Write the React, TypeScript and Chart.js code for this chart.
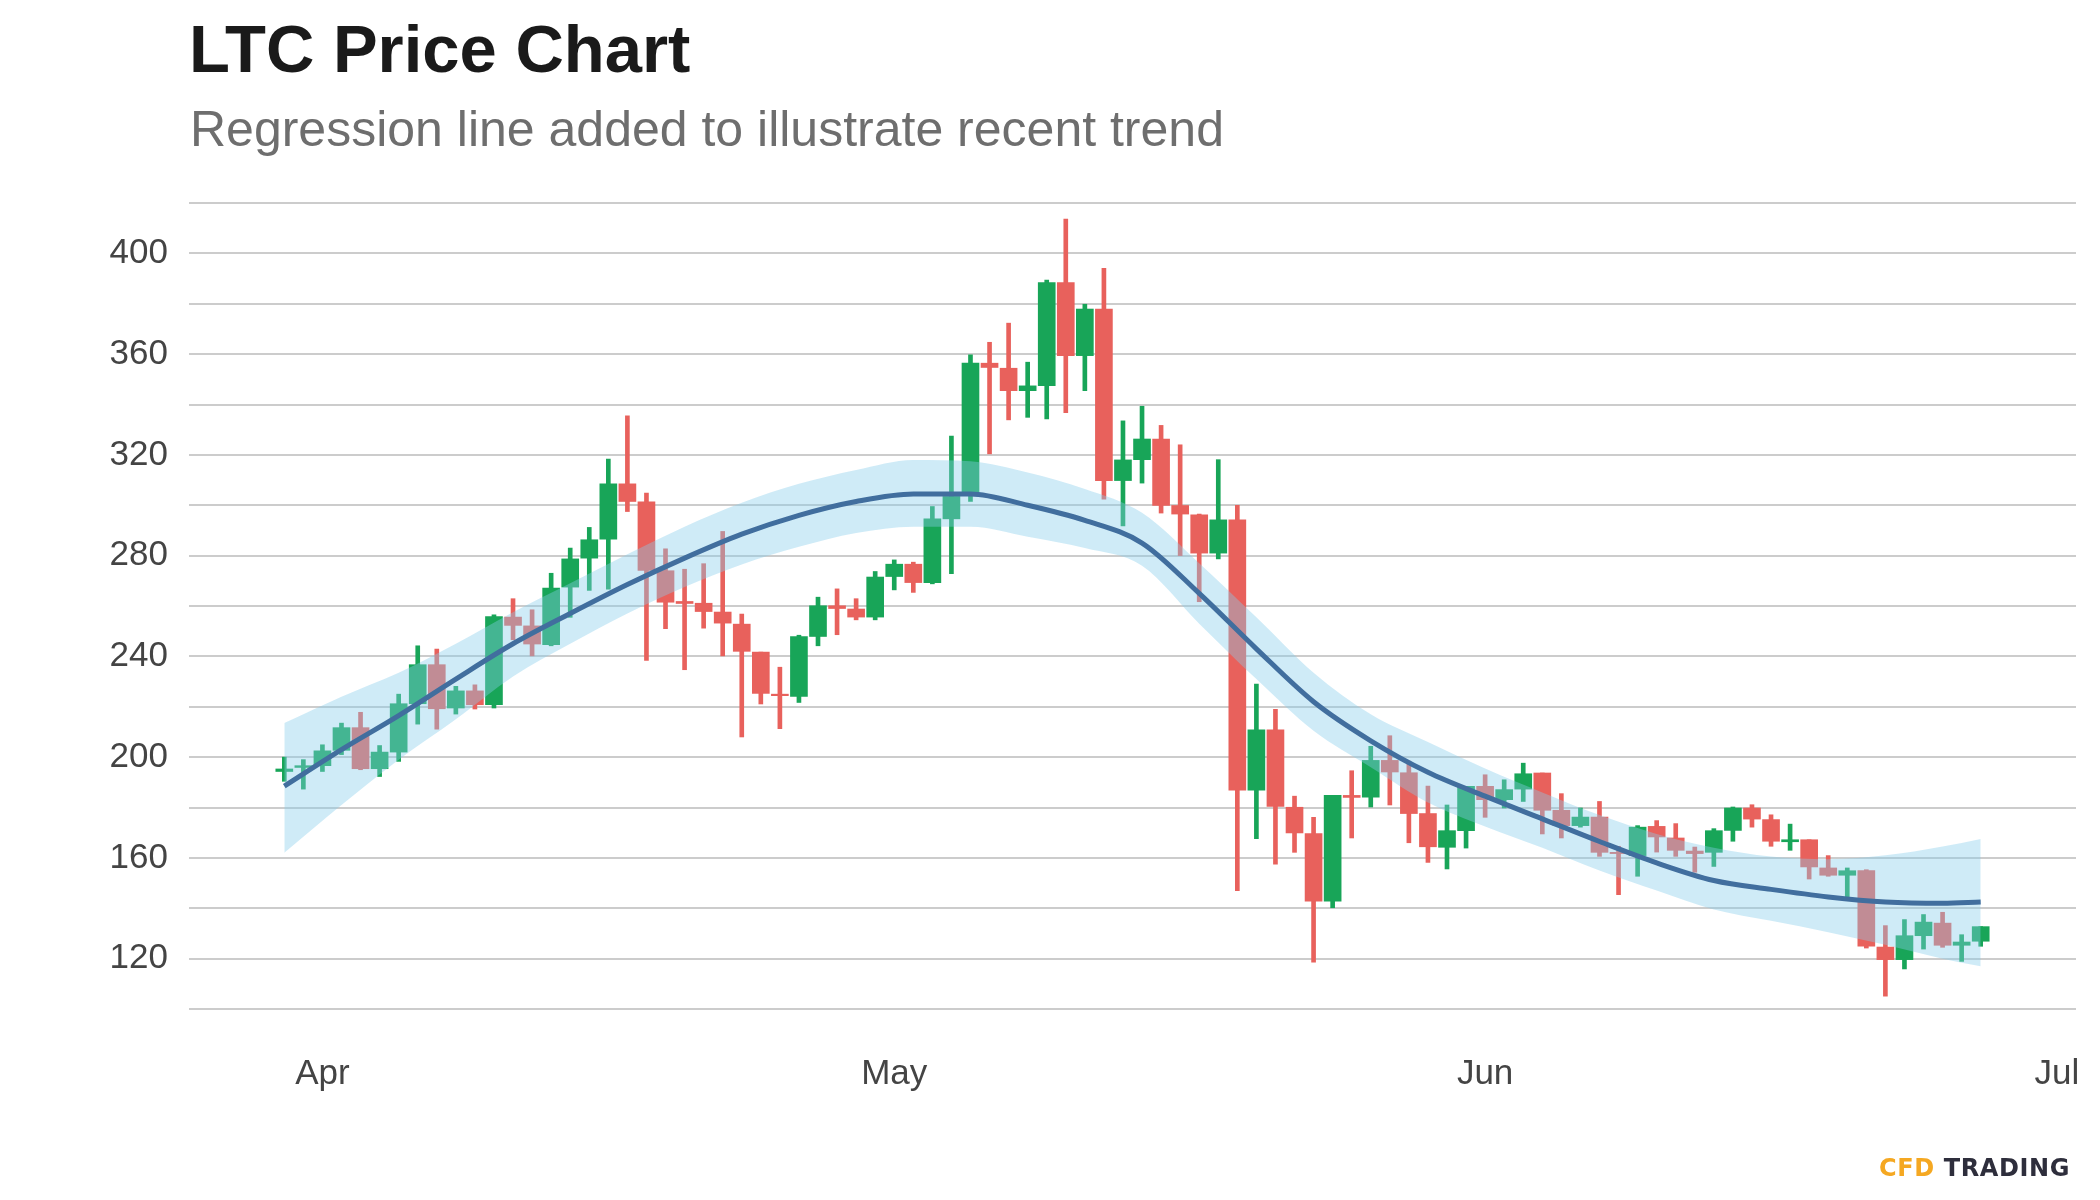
import React, { useEffect, useRef } from 'react';
import { Chart, registerables } from 'chart.js';

Chart.register(...registerables);

// ---- Data (LTC daily candles, 2021) ----
const dates = [
  '03-30', '03-31',
  '04-01', '04-02', '04-03', '04-04', '04-05', '04-06', '04-07', '04-08', '04-09', '04-10',
  '04-11', '04-12', '04-13', '04-14', '04-15', '04-16', '04-17', '04-18', '04-19', '04-20',
  '04-21', '04-22', '04-23', '04-24', '04-25', '04-26', '04-27', '04-28', '04-29', '04-30',
  '05-01', '05-02', '05-03', '05-04', '05-05', '05-06', '05-07', '05-08', '05-09', '05-10',
  '05-11', '05-12', '05-13', '05-14', '05-15', '05-16', '05-17', '05-18', '05-19', '05-20',
  '05-21', '05-22', '05-23', '05-24', '05-25', '05-26', '05-27', '05-28', '05-29', '05-30', '05-31',
  '06-01', '06-02', '06-03', '06-04', '06-05', '06-06', '06-07', '06-08', '06-09', '06-10',
  '06-11', '06-12', '06-13', '06-14', '06-15', '06-16', '06-17', '06-18', '06-19', '06-20',
  '06-21', '06-22', '06-23', '06-24', '06-25', '06-26', '06-27',
];

const opens = [
  194.3, 195.9,
  196.6, 202.7, 211.7, 195.4, 202.0, 221.2, 236.7, 219.5, 226.3, 220.8,
  255.6, 252.1, 244.6, 267.5, 279.0, 286.5, 308.5, 301.4, 274.0, 261.8,
  261.1, 257.6, 252.8, 241.7, 225.0, 224.1, 247.9, 260.1, 258.8, 255.6,
  271.7, 276.6, 269.3, 294.6, 305.3, 356.4, 354.4, 345.5, 347.5, 388.4,
  359.4, 377.9, 309.8, 318.1, 326.3, 299.9, 296.2, 281.0, 294.2, 186.9,
  210.8, 180.1, 169.6, 142.8, 184.8, 184.1, 198.7, 193.8, 177.6, 164.2, 170.8,
  188.4, 183.1, 187.3, 193.7, 178.9, 172.8, 176.2, 162.2, 160.9, 172.5,
  167.9, 162.7, 162.2, 170.9, 179.8, 175.2, 166.4, 167.2, 156.0, 153.1,
  155.0, 124.6, 119.6, 129.1, 134.1, 125.3, 126.9,
];

const highs = [
  200.0, 199.0,
  204.9, 213.5, 217.8, 204.6, 225.0, 244.2, 242.9, 228.1, 228.7, 256.5,
  262.9, 258.5, 273.0, 283.0, 291.2, 318.3, 335.5, 304.8, 282.7, 274.6,
  276.8, 289.6, 256.8, 241.7, 235.7, 248.4, 263.5, 266.8, 262.9, 273.7,
  278.3, 277.4, 299.5, 327.5, 359.7, 364.7, 372.3, 356.8, 389.4, 413.6,
  379.8, 394.1, 333.5, 339.3, 331.7, 324.0, 296.5, 318.1, 300.0, 229.0,
  219.0, 184.5, 176.1, 184.8, 194.6, 204.3, 208.5, 198.4, 188.5, 181.0, 188.4,
  193.0, 191.0, 197.6, 193.7, 185.5, 179.8, 182.4, 164.6, 172.8, 174.8,
  173.6, 164.3, 171.6, 180.2, 181.1, 177.1, 173.4, 167.2, 160.9, 156.0,
  155.3, 133.1, 135.5, 137.5, 138.4, 129.5, 132.7,
];

const lows = [
  190.4, 187.3,
  194.3, 201.0, 195.0, 192.3, 198.3, 213.1, 211.1, 217.1, 219.1, 219.5,
  246.6, 240.2, 244.2, 255.5, 266.2, 266.7, 297.5, 238.4, 251.0, 234.7,
  251.2, 240.2, 208.0, 221.1, 211.3, 221.7, 244.2, 248.6, 254.5, 254.5,
  266.4, 265.4, 268.8, 272.8, 301.5, 320.4, 333.9, 334.9, 334.3, 336.8,
  345.5, 302.4, 291.8, 308.8, 296.9, 280.0, 261.7, 278.7, 147.0, 167.6,
  157.5, 162.2, 118.6, 140.2, 167.9, 180.2, 181.0, 166.0, 158.2, 155.6, 163.9,
  176.1, 179.8, 182.4, 169.5, 167.9, 172.2, 160.6, 145.4, 152.7, 162.3,
  160.6, 154.3, 156.6, 166.6, 172.2, 164.6, 163.0, 151.6, 152.7, 144.1,
  124.2, 105.1, 115.9, 123.8, 124.5, 118.9, 124.9,
];

const closes = [
  195.3, 196.6,
  202.5, 211.7, 195.4, 202.0, 221.2, 236.7, 219.2, 226.3, 220.8, 255.8,
  252.3, 244.9, 267.1, 278.7, 286.3, 308.5, 301.5, 274.1, 261.5, 261.0,
  257.8, 253.2, 242.0, 225.3, 224.4, 247.9, 260.1, 259.0, 255.6, 271.5,
  276.6, 269.3, 294.6, 303.5, 356.4, 354.7, 345.5, 347.4, 388.4, 359.4,
  377.9, 309.8, 318.0, 326.3, 299.9, 296.5, 281.0, 294.2, 186.9, 210.8,
  180.4, 169.9, 142.8, 184.8, 184.0, 198.7, 194.1, 177.6, 164.4, 170.8, 188.4,
  183.1, 187.1, 193.4, 178.9, 172.8, 176.2, 162.2, 161.7, 172.2, 168.3,
  163.0, 161.7, 170.8, 179.8, 175.4, 166.6, 167.2, 156.4, 153.1, 154.9,
  124.9, 119.6, 129.1, 134.5, 125.3, 126.6, 132.7,
];

// ---- Regression (LOESS-like) line and confidence band ----
const regDates = [
  '03-30', '04-02', '04-05', '04-08', '04-11', '04-14', '04-17', '04-20', '04-23', '04-26',
  '04-29', '05-02', '05-05', '05-08', '05-11', '05-14', '05-17', '05-20', '05-23', '05-26',
  '05-29', '06-01', '06-04', '06-07', '06-10', '06-13', '06-16', '06-19', '06-22', '06-25', '06-27',
];
const regValues = [
  188.5, 203, 216.5, 231, 245, 257, 268.5, 279, 288.5, 296,
  301.5, 304.5, 304.5, 300, 294, 285, 265, 243, 222, 206.5,
  194, 184.5, 175.5, 166.5, 158, 151, 147.5, 144.5, 142.5, 142, 142.5,
];
const bandUpper = [
  213.5, 224, 233.5, 245, 257.5, 269, 280.5, 291.5, 301, 308.5,
  314, 318, 317.5, 313, 306.5, 297, 277, 255.5, 233.5, 217,
  206, 195.5, 186, 177, 169.5, 164, 160.5, 159.5, 161, 164.5, 167.5,
];
const bandLower = [
  162, 181, 199, 215, 232, 245, 257, 267.5, 276.5, 283.5,
  289, 291.5, 291.5, 287.5, 283, 276, 253, 231, 210.5, 196,
  182, 172.5, 164, 155, 147, 139.5, 135, 130.5, 125.5, 120, 117,
];

// ---- Axes ----
const axisStart = '03-25';
const axisEnd = '07-02';
const tickDates = ['04-01', '05-01', '06-01', '07-01'];
const tickLabels = ['Apr', 'May', 'Jun', 'Jul'];
const yMin = 100;
const yMax = 420;
const yStep = 20;
const yLabelEvery = 40;

const GREEN = '#18a558';
const RED = '#e8615c';
const LINE = '#416e9e';
const BAND = 'rgba(135, 206, 235, 0.4)';
const FONT = '"Liberation Sans", Arial, Helvetica, sans-serif';

const dayOf = (s: string) => {
  const [m, d] = s.split('-').map(Number);
  return (Date.UTC(2021, m - 1, d) - Date.UTC(2021, 3, 1)) / 86400000;
};

export default function App() {
  const ref = useRef<HTMLCanvasElement>(null);

  useEffect(() => {
    if (!ref.current) return;
    const xs = dates.map(dayOf);
    const colors = closes.map((c, i) => (c >= opens[i] ? GREEN : RED));
    const rx = regDates.map(dayOf);

    const chart = new Chart(ref.current, {
      type: 'bar',
      data: {
        datasets: [
          {
            type: 'line',
            data: rx.map((x, i) => ({ x, y: regValues[i] })),
            borderColor: LINE,
            borderWidth: 5,
            pointRadius: 0,
            cubicInterpolationMode: 'monotone',
            fill: false,
          } as any,
          {
            type: 'line',
            data: rx.map((x, i) => ({ x, y: bandUpper[i] })),
            borderColor: 'rgba(0,0,0,0)',
            borderWidth: 1,
            pointRadius: 0,
            cubicInterpolationMode: 'monotone',
            fill: '+1',
            backgroundColor: BAND,
          } as any,
          {
            type: 'line',
            data: rx.map((x, i) => ({ x, y: bandLower[i] })),
            borderColor: 'rgba(0,0,0,0)',
            borderWidth: 1,
            pointRadius: 0,
            cubicInterpolationMode: 'monotone',
            fill: false,
          } as any,
          {
            type: 'bar',
            data: xs.map((x, i) => ({ x, y: [opens[i], closes[i]] })),
            backgroundColor: colors,
            borderWidth: 0,
            barThickness: 17,
            grouped: false,
          } as any,
          {
            type: 'bar',
            data: xs.map((x, i) => ({ x, y: [lows[i], highs[i]] })),
            backgroundColor: colors,
            borderWidth: 0,
            barThickness: 4,
            grouped: false,
          } as any,
        ],
      },
      options: {
        responsive: false,
        animation: false,
        events: [],
        layout: { padding: { left: 0, right: 24, top: 203, bottom: 0 } },
        plugins: {
          legend: { display: false },
          tooltip: { enabled: false },
          title: { display: false },
        },
        scales: {
          x: {
            type: 'linear',
            min: dayOf(axisStart),
            max: dayOf(axisEnd),
            offset: false,
            afterBuildTicks: (s: any) => {
              s.ticks = tickDates.map((d) => ({ value: dayOf(d) }));
            },
            afterFit: (s: any) => {
              s.height = 191;
              s.paddingLeft = 0;
              s.paddingRight = 0;
            },
            ticks: {
              autoSkip: false,
              maxRotation: 0,
              padding: 44,
              color: '#444444',
              font: { family: FONT, size: 35 },
              callback: (_v: any, i: number) => tickLabels[i],
            },
            grid: { display: false, drawTicks: false },
            border: { display: false },
          },
          y: {
            type: 'linear',
            min: yMin,
            max: yMax,
            afterFit: (s: any) => {
              s.width = 189;
              s.paddingTop = 0;
              s.paddingBottom = 0;
            },
            ticks: {
              stepSize: yStep,
              autoSkip: false,
              padding: 21,
              color: '#444444',
              font: { family: FONT, size: 35 },
              callback: (v: any) => (Number(v) % yLabelEvery === 0 ? String(v) : ''),
            },
            grid: { color: '#cccccc', lineWidth: 2, drawTicks: false },
            border: { display: false },
          },
        },
      } as any,
    });
    return () => chart.destroy();
  }, []);

  return (
    <div style={{ position: 'absolute', left: 0, top: 0, width: 2100, height: 1200, background: '#ffffff', overflow: 'hidden' }}>
      <div style={{ position: 'absolute', left: 189, top: 15, fontFamily: FONT, fontWeight: 700, fontSize: 67, lineHeight: '67px', color: '#1a1a1a', whiteSpace: 'nowrap' }}>
        LTC Price Chart
      </div>
      <div style={{ position: 'absolute', left: 190, top: 104, fontFamily: FONT, fontSize: 50, lineHeight: '50px', color: '#6e6e6e', whiteSpace: 'nowrap' }}>
        Regression line added to illustrate recent trend
      </div>
      <canvas ref={ref} width={2100} height={1200} style={{ position: 'absolute', left: 0, top: 0, width: 2100, height: 1200 }} />
      <div style={{ position: 'absolute', right: 30, top: 1156, fontFamily: '"DejaVu Sans", sans-serif', fontWeight: 700, fontSize: 24, lineHeight: '24px', letterSpacing: '0.6px', whiteSpace: 'nowrap' }}>
        <span style={{ color: '#f5a822' }}>CFD</span>
        <span style={{ color: '#2e2e3c' }}> TRADING</span>
      </div>
    </div>
  );
}
